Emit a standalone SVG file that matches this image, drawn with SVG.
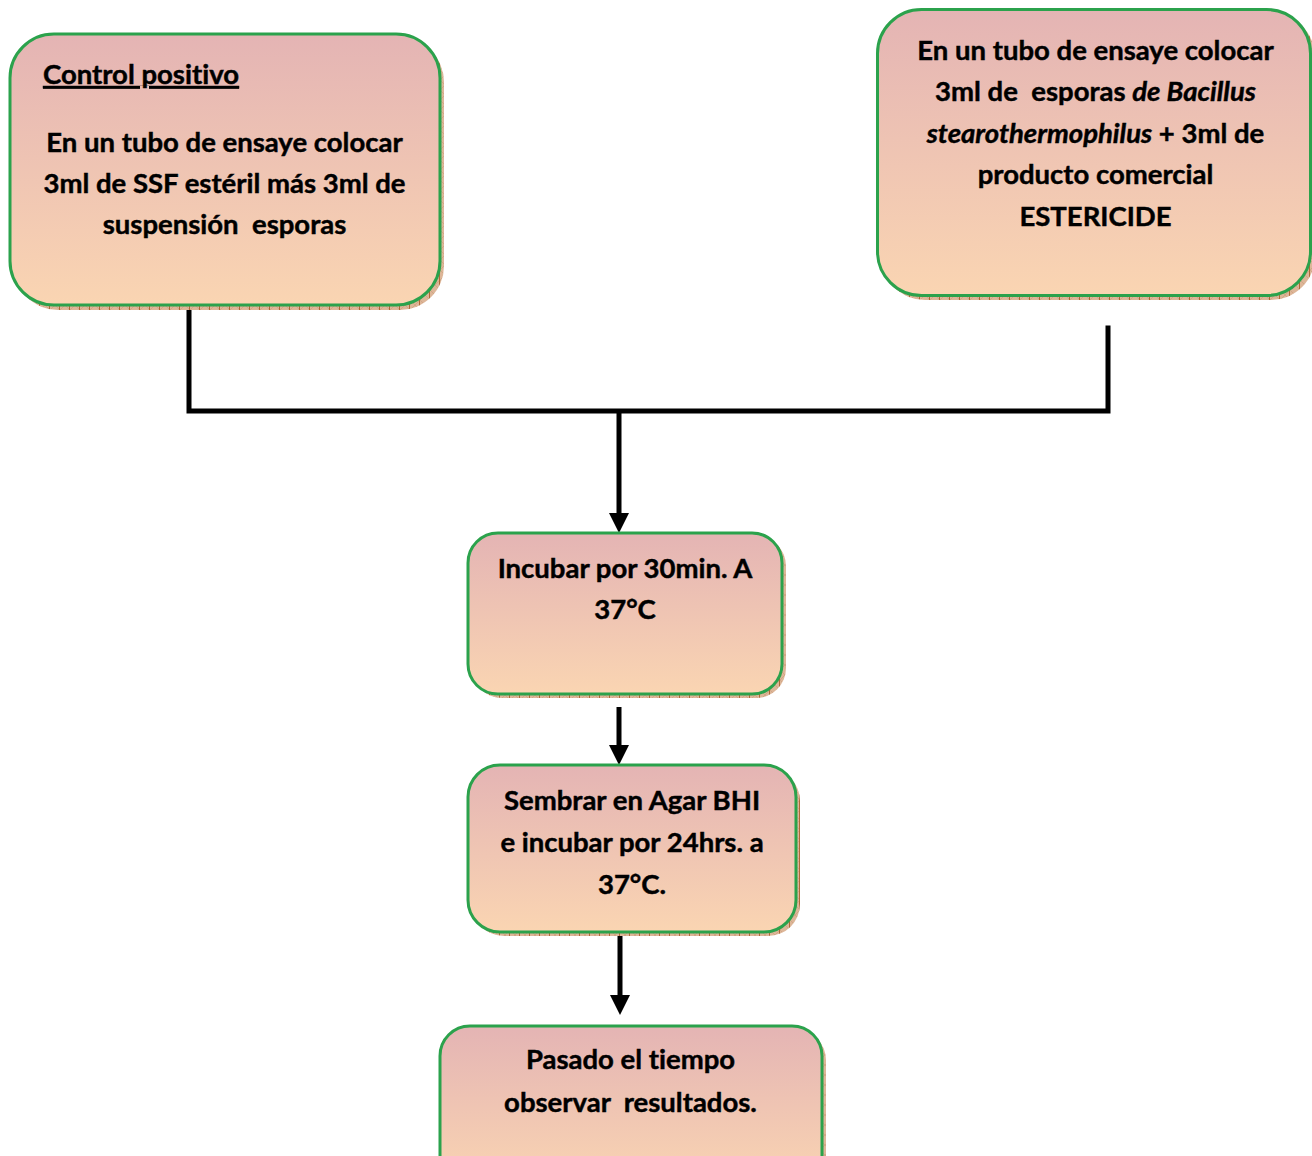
<svg xmlns="http://www.w3.org/2000/svg" width="1312" height="1156" viewBox="0 0 1312 1156">
<defs>
<linearGradient id="fillGrad" x1="0" y1="0" x2="0" y2="1">
<stop offset="0" stop-color="#E4B4B4"/>
<stop offset="1" stop-color="#FAD5B2"/>
</linearGradient>
<pattern id="hatch" width="10" height="10" patternUnits="userSpaceOnUse">
<rect width="10" height="10" fill="#DDB698"/>
<path d="M0 0L10 10M10 0L0 10" stroke="#C99A78" stroke-width="0.6"/>
<path d="M9.5 0V10" stroke="#B06A38" stroke-width="1"/>
</pattern>
<marker id="arrow" viewBox="0 0 20 20" refX="0" refY="10" markerWidth="20" markerHeight="20" markerUnits="userSpaceOnUse" orient="auto">
<path d="M0 0L20 10L0 20Z" fill="#000"/>
</marker>
</defs>
<style>
.shadow{fill:url(#hatch);}
.box{fill:url(#fillGrad);stroke:#2BA24C;stroke-width:3;}
.t{font-family:Lato,"Open Sans","Liberation Sans",sans-serif;font-weight:bold;font-size:27.5px;fill:#000;stroke:#000;stroke-width:0.45;text-anchor:middle;font-variant-ligatures:none;}
.it{font-style:italic;}
.conn{fill:none;stroke:#000;stroke-width:5;}
</style>

<g id="connectors">
<polyline class="conn" points="189,306 189,411 1108,411 1108,328" stroke-linecap="square"/>
<line class="conn" x1="619" y1="411" x2="619" y2="513" marker-end="url(#arrow)"/>
<line class="conn" x1="619" y1="707" x2="619" y2="745" marker-end="url(#arrow)"/>
<line class="conn" x1="620" y1="932" x2="620" y2="995" marker-end="url(#arrow)"/>
</g>

<g id="node-control">
<rect class="shadow" x="14" y="38" width="430" height="272" rx="44"/>
<rect class="box" x="10" y="34" width="430" height="271" rx="44"/>
<text x="43" y="84" class="t" style="text-anchor:start" text-decoration="underline">Control positivo</text>
<text x="224.5" y="152" class="t">En un tubo de ensaye colocar</text>
<text x="224.5" y="193" class="t">3ml de SSF estéril más 3ml de</text>
<text x="224.5" y="234" class="t" xml:space="preserve">suspensión  esporas</text>
</g>

<g id="node-bacillus">
<rect class="shadow" x="881" y="13" width="434" height="287" rx="44"/>
<rect class="box" x="877.5" y="9.5" width="433" height="286" rx="44"/>
<text x="1095.5" y="59.5" class="t">En un tubo de ensaye colocar</text>
<text x="1095.5" y="101" class="t" xml:space="preserve">3ml de  esporas <tspan class="it">de Bacillus</tspan></text>
<text x="1095.5" y="142.5" class="t"><tspan class="it">stearothermophilus</tspan> + 3ml de</text>
<text x="1095.5" y="184" class="t">producto comercial</text>
<text x="1095.5" y="225.5" class="t">ESTERICIDE</text>
</g>

<g id="node-incubar">
<rect class="shadow" x="472" y="536" width="314" height="162" rx="30"/>
<rect class="box" x="468" y="533" width="314" height="161" rx="30"/>
<text x="625" y="577.5" class="t">Incubar por 30min. A</text>
<text x="625" y="619" class="t">37°C</text>
</g>

<g id="node-sembrar">
<rect class="shadow" x="472" y="769" width="328" height="167" rx="32"/>
<rect class="box" x="468" y="765" width="328" height="167" rx="32"/>
<text x="632" y="810" class="t">Sembrar en Agar BHI</text>
<text x="632" y="852" class="t">e incubar por 24hrs. a</text>
<text x="632" y="893.5" class="t">37°C.</text>
</g>

<g id="node-observar">
<rect class="shadow" x="444" y="1030" width="382" height="160" rx="30"/>
<rect class="box" x="440" y="1026" width="382" height="160" rx="30"/>
<text x="630.5" y="1068.5" class="t">Pasado el tiempo</text>
<text x="630.5" y="1111.5" class="t" xml:space="preserve">observar  resultados.</text>
</g>
</svg>
